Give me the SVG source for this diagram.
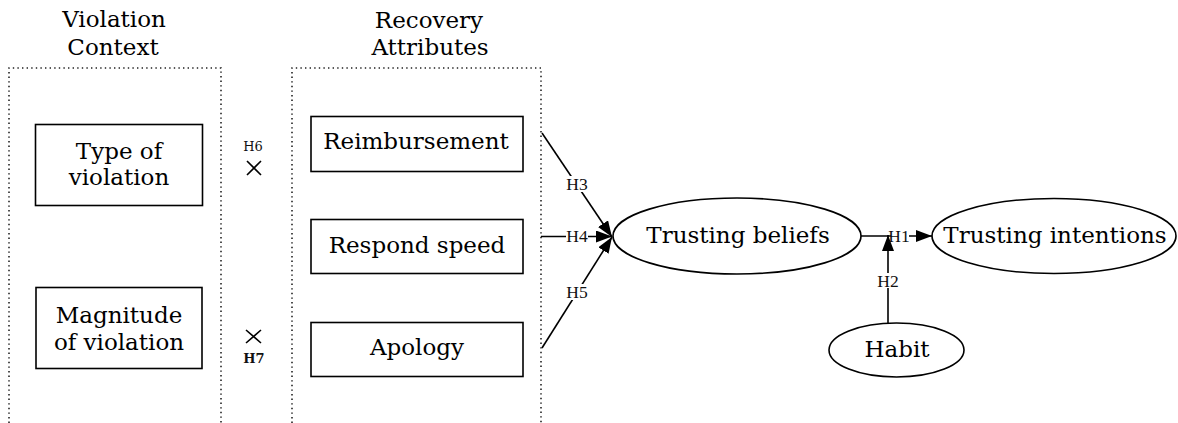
<svg xmlns="http://www.w3.org/2000/svg" width="1178" height="423" viewBox="0 0 1178 423">
<style>
.t{font-family:"DejaVu Serif","Liberation Serif",serif;font-size:23px;fill:#000;text-anchor:middle}
.h{font-family:"Liberation Serif","DejaVu Serif",serif;font-size:17.5px;fill:#111;text-anchor:middle}
.hs{font-family:"DejaVu Serif","Liberation Serif",serif;font-size:13px;fill:#111;text-anchor:middle}
.box{fill:#fff;stroke:#000;stroke-width:1.6}
.dot{fill:none;stroke:#222;stroke-width:1.6;stroke-dasharray:1.4 3.2}
.ln{stroke:#000;stroke-width:1.6;fill:none}
.bg{fill:#fff}
</style>
<defs>
<marker id="arr" markerUnits="userSpaceOnUse" markerWidth="17" markerHeight="13" refX="16" refY="6" orient="auto">
<path d="M0,0 L16,6 L0,12 z" fill="#000"/>
</marker>
</defs>
<rect width="1178" height="423" fill="#fff"/>
<g id="group-violation-context">
<text class="t" x="114" y="27">Violation</text>
<text class="t" x="113" y="55">Context</text>
<path class="dot" d="M9,423 V68 H221 V423"/>
</g>
<g id="group-recovery-attributes">
<text class="t" x="429" y="28">Recovery</text>
<text class="t" x="430" y="55">Attributes</text>
<path class="dot" d="M292,423 V68 H541 V423"/>
</g>
<g id="node-type">
<rect class="box" x="35.5" y="124.5" width="167" height="81"/>
<text class="t" x="119" y="159">Type of</text>
<text class="t" x="119" y="185">violation</text>
</g>
<g id="node-magnitude">
<rect class="box" x="36" y="287.5" width="166" height="81"/>
<text class="t" x="119" y="323">Magnitude</text>
<text class="t" x="119" y="350">of violation</text>
</g>
<g id="node-reimbursement">
<rect class="box" x="311" y="116.5" width="212" height="55"/>
<text class="t" x="416" y="149">Reimbursement</text>
</g>
<g id="node-respond">
<rect class="box" x="311" y="219.5" width="212" height="54"/>
<text class="t" x="417" y="253">Respond speed</text>
</g>
<g id="node-apology">
<rect class="box" x="311" y="322.5" width="212" height="54"/>
<text class="t" x="417" y="355">Apology</text>
</g>
<g id="node-beliefs">
<ellipse class="box" cx="737" cy="236" rx="124" ry="38"/>
<text class="t" x="738" y="243">Trusting beliefs</text>
</g>
<g id="node-intentions">
<ellipse class="box" cx="1054" cy="236" rx="122" ry="37.5"/>
<text class="t" x="1055" y="243">Trusting intentions</text>
</g>
<g id="node-habit">
<ellipse class="box" cx="896.5" cy="350" rx="67.5" ry="27"/>
<text class="t" x="897" y="357">Habit</text>
</g>
<g id="moderators">
<text class="hs" x="253" y="151">H6</text>
<path class="ln" d="M247,161 L261,175 M261,161 L247,175" stroke-width="1.3"/>
<path class="ln" d="M246,330 L261,343 M261,330 L246,343" stroke-width="1.3"/>
<text class="hs" x="254" y="363" font-weight="bold">H7</text>
</g>
<g id="connectors">
<line class="ln" x1="542" y1="133" x2="612" y2="237" marker-end="url(#arr)"/>
<line class="ln" x1="541" y1="236.5" x2="612" y2="236.5" marker-end="url(#arr)"/>
<line class="ln" x1="542" y1="348" x2="612" y2="237" marker-end="url(#arr)"/>
<line class="ln" x1="861" y1="236" x2="932" y2="236" marker-end="url(#arr)"/>
<line class="ln" x1="888" y1="323" x2="888" y2="235" marker-end="url(#arr)"/>
<rect class="bg" x="564" y="176" width="26" height="16"/>
<text class="h" x="577" y="190">H3</text>
<rect class="bg" x="566" y="229" width="22" height="14"/>
<text class="h" x="577" y="242">H4</text>
<rect class="bg" x="564" y="284" width="26" height="16"/>
<text class="h" x="577" y="298">H5</text>
<rect class="bg" x="891" y="229" width="18" height="14"/>
<text class="h" x="899" y="242">H1</text>
<rect class="bg" x="877" y="273" width="22" height="15"/>
<text class="h" x="888" y="287">H2</text>
</g>
</svg>
